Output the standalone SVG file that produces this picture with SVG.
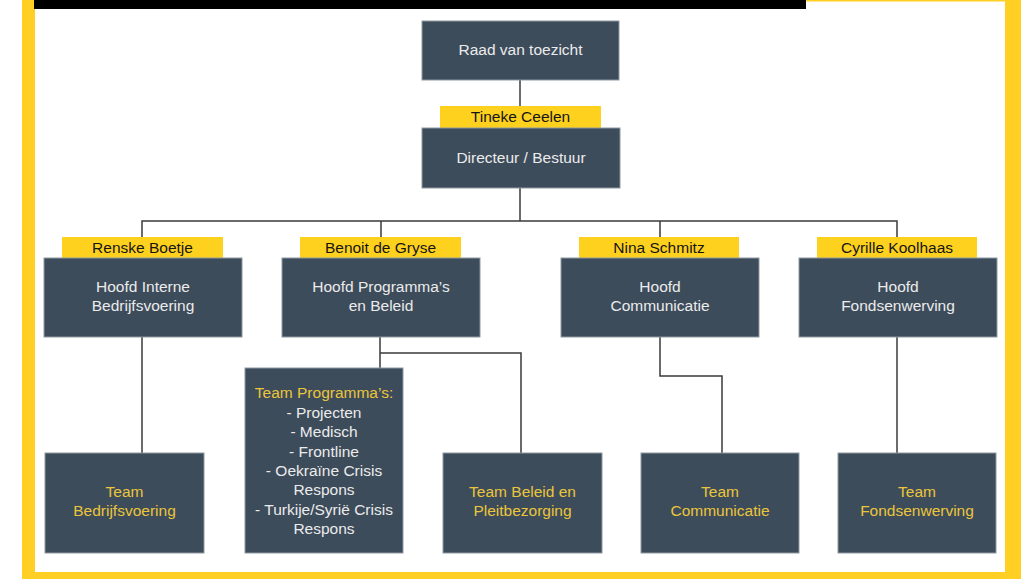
<svg xmlns="http://www.w3.org/2000/svg" width="1027" height="579" viewBox="0 0 1027 579">
<style>
.box{fill:#3d4c5b;stroke:#8f99a2;stroke-width:1}
.lbl{fill:#ffd11f}
.w{fill:#ebebeb;font-family:"Liberation Sans",Arial,sans-serif;font-size:15.5px;text-anchor:middle}
.y{fill:#ebc53a;font-family:"Liberation Sans",Arial,sans-serif;font-size:15.5px;text-anchor:middle}
.n{fill:#151515;font-family:"Liberation Sans",Arial,sans-serif;font-size:15.5px;text-anchor:middle}
.c{fill:none;stroke:#3a3a3a;stroke-width:1.5}
</style>
<rect x="0" y="0" width="1027" height="579" fill="#ffffff"/>
<g id="frame">
<rect x="22" y="0" width="13" height="579" fill="#ffd023"/>
<rect x="1005" y="0" width="16" height="579" fill="#ffd023"/>
<rect x="22" y="572" width="999" height="7" fill="#ffd023"/>
<rect x="806" y="0" width="215" height="1.5" fill="#ffd023"/>
<rect x="34" y="0" width="772" height="9" fill="#000000"/>
</g>
<g id="connectors">
<path class="c" d="M520 80V106"/>
<path class="c" d="M520 188V221M142 237V221H897V237M381 221V237M660 221V237"/>
<path class="c" d="M142 337V453"/>
<path class="c" d="M380 337V368M380 353H521V453"/>
<path class="c" d="M660 337V376H722V453"/>
<path class="c" d="M897 337V453"/>
</g>
<g id="raad">
<rect class="box" x="422" y="21" width="197" height="59"/>
<text class="w" x="520.5" y="55">Raad van toezicht</text>
</g>
<g id="directeur">
<rect class="lbl" x="440" y="106" width="161" height="22"/>
<text class="n" x="520.5" y="122">Tineke Ceelen</text>
<rect class="box" x="422" y="128" width="198" height="60"/>
<text class="w" x="521" y="163">Directeur / Bestuur</text>
</g>
<g id="hoofd-interne">
<rect class="lbl" x="62" y="237" width="161" height="21"/>
<text class="n" x="142.5" y="253">Renske Boetje</text>
<rect class="box" x="44" y="258" width="198" height="79"/>
<text class="w" x="143" y="292">Hoofd Interne</text>
<text class="w" x="143" y="311">Bedrijfsvoering</text>
</g>
<g id="hoofd-programmas">
<rect class="lbl" x="300" y="237" width="161" height="21"/>
<text class="n" x="380.5" y="253">Benoit de Gryse</text>
<rect class="box" x="282" y="258" width="198" height="79"/>
<text class="w" x="381" y="292">Hoofd Programma’s</text>
<text class="w" x="381" y="311">en Beleid</text>
</g>
<g id="hoofd-communicatie">
<rect class="lbl" x="579" y="237" width="160" height="21"/>
<text class="n" x="659" y="253">Nina Schmitz</text>
<rect class="box" x="561" y="258" width="198" height="79"/>
<text class="w" x="660" y="292">Hoofd</text>
<text class="w" x="660" y="311">Communicatie</text>
</g>
<g id="hoofd-fondsenwerving">
<rect class="lbl" x="817" y="237" width="160" height="21"/>
<text class="n" x="897" y="253">Cyrille Koolhaas</text>
<rect class="box" x="799" y="258" width="198" height="79"/>
<text class="w" x="898" y="292">Hoofd</text>
<text class="w" x="898" y="311">Fondsenwerving</text>
</g>
<g id="team-bedrijfsvoering">
<rect class="box" x="45" y="453" width="159" height="100"/>
<text class="y" x="124.5" y="497">Team</text>
<text class="y" x="124.5" y="516">Bedrijfsvoering</text>
</g>
<g id="team-programmas">
<rect class="box" x="245" y="368" width="158" height="185"/>
<text class="y" x="324" y="398">Team Programma’s:</text>
<text class="w" x="324" y="418">- Projecten</text>
<text class="w" x="324" y="437">- Medisch</text>
<text class="w" x="324" y="457">- Frontline</text>
<text class="w" x="324" y="476">- Oekraïne Crisis</text>
<text class="w" x="324" y="495">Respons</text>
<text class="w" x="324" y="515">- Turkije/Syrië Crisis</text>
<text class="w" x="324" y="534">Respons</text>
</g>
<g id="team-beleid">
<rect class="box" x="443" y="453" width="159" height="100"/>
<text class="y" x="522.5" y="497">Team Beleid en</text>
<text class="y" x="522.5" y="516">Pleitbezorging</text>
</g>
<g id="team-communicatie">
<rect class="box" x="641" y="453" width="158" height="100"/>
<text class="y" x="720" y="497">Team</text>
<text class="y" x="720" y="516">Communicatie</text>
</g>
<g id="team-fondsenwerving">
<rect class="box" x="838" y="453" width="158" height="100"/>
<text class="y" x="917" y="497">Team</text>
<text class="y" x="917" y="516">Fondsenwerving</text>
</g>
</svg>
